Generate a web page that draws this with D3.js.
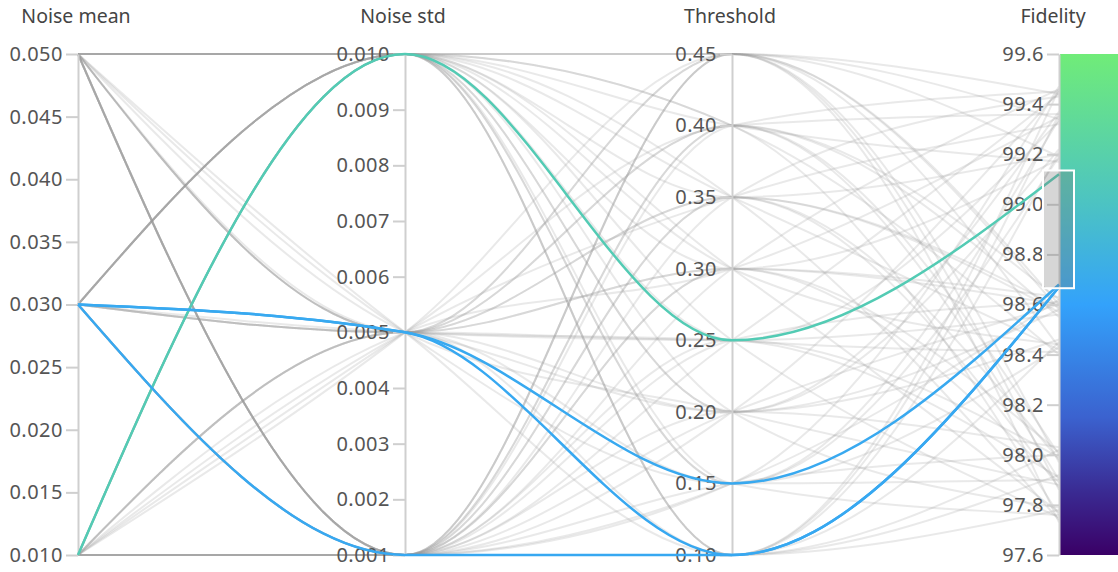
<!DOCTYPE html>
<html>
<head>
<meta charset="utf-8">
<script src="https://cdn.jsdelivr.net/npm/d3@7"></script>
<style>
  body { margin: 0; background: #fff; }
  svg { display: block; font-family: "Noto Sans", sans-serif; }
</style>
</head>
<body>
<svg width="1118" height="572"></svg>
<script>
// axes
const dims = ["Noise mean", "Noise std", "Threshold", "Fidelity"];
const meanValues = [0.010, 0.030, 0.050];
const stdValues = [0.001, 0.005, 0.010];
const thresholds = [0.10, 0.15, 0.20, 0.25, 0.30, 0.35, 0.40, 0.45];

// fidelity per threshold (0.10 ... 0.45), one array per noise mean / std pair
const fidM010S001 = [99.46, 99.47, 99.45, 99.44, 99.46, 99.43, 99.45, 99.44];
const fidM010S005 = [99.36, 99.34, 99.37, 99.33, 99.35, 99.32, 99.36, 99.34];
const fidM010S010 = [99.21, 99.19, 99.22, 99.12, 99.18, 99.2, 99.17, 99.19];
const fidM030S001 = [98.67, 98.62, 98.6, 98.61, 98.63, 98.59, 98.62, 98.6];
const fidM030S005 = [98.67, 98.68, 98.58, 98.56, 98.6, 98.57, 98.55, 98.58];
const fidM030S010 = [98.45, 98.43, 98.46, 98.41, 98.44, 98.42, 98.4, 98.43];
const fidM050S001 = [98.02, 98.0, 98.03, 97.99, 98.01, 97.98, 98.0, 97.97];
const fidM050S005 = [97.92, 97.9, 97.88, 97.91, 97.89, 97.87, 97.9, 97.86];
const fidM050S010 = [97.78, 97.76, 97.79, 97.75, 97.77, 97.74, 97.76, 97.73];

const fidTable = [
  [fidM010S001, fidM010S005, fidM010S010],
  [fidM030S001, fidM030S005, fidM030S010],
  [fidM050S001, fidM050S005, fidM050S010]
];

// brushed range on the Fidelity axis
const brushRange = [98.665, 99.135];

// colour bar stops
const colorStops = [99.6, 99.0, 98.6, 98.15, 97.85, 97.6];
const colorRange = ["#70ec78", "#4cc3c3", "#33a2fb", "#3b62cf", "#3a2a92", "#3a0066"];

// build runs
const runs = [];
meanValues.forEach((m, i) => {
  stdValues.forEach((s, j) => {
    thresholds.forEach((t, k) => {
      runs.push({ "Noise mean": m, "Noise std": s, "Threshold": t, "Fidelity": fidTable[i][j][k] });
    });
  });
});

const svg = d3.select("svg");
const yTop = 54, yBottom = 555;

const x = d3.scalePoint().domain(dims).range([78, 1059]);

const y = {
  "Noise mean": d3.scaleLinear().domain([0.01, 0.05]).range([yBottom, yTop]),
  "Noise std": d3.scaleLinear().domain([0.001, 0.01]).range([yBottom, yTop]),
  "Threshold": d3.scaleLinear().domain([0.1, 0.45]).range([yBottom, yTop]),
  "Fidelity": d3.scaleLinear().domain([97.6, 99.6]).range([yBottom, yTop])
};
const fmt = {
  "Noise mean": d3.format(".3f"),
  "Noise std": d3.format(".3f"),
  "Threshold": d3.format(".2f"),
  "Fidelity": d3.format(".1f")
};
const tickCount = { "Noise mean": 10, "Noise std": 10, "Threshold": 8, "Fidelity": 10 };

const colorScale = d3.scaleLinear().domain(colorStops).range(colorRange);

// colour bar
const defs = svg.append("defs");
const grad = defs.append("linearGradient")
  .attr("id", "fidGrad")
  .attr("x1", 0).attr("y1", 0).attr("x2", 0).attr("y2", 1);
colorStops.forEach((v, i) => {
  grad.append("stop")
    .attr("offset", (y.Fidelity(v) - yTop) / (yBottom - yTop))
    .attr("stop-color", colorRange[i]);
});
svg.append("rect")
  .attr("x", x("Fidelity") + 1)
  .attr("y", yTop)
  .attr("width", 1118 - x("Fidelity"))
  .attr("height", yBottom - yTop)
  .attr("fill", "url(#fidGrad)");

// lines
const lineGen = d3.line().curve(d3.curveMonotoneX);
const path = (d) => lineGen(dims.map((p) => [x(p), y[p](d[p])]));
const inBrush = (d) => d.Fidelity >= brushRange[0] && d.Fidelity <= brushRange[1];

svg.append("g")
  .selectAll("path")
  .data(runs.filter((d) => !inBrush(d)))
  .enter()
  .append("path")
  .attr("d", path)
  .attr("fill", "none")
  .attr("stroke", "#9a9a9a")
  .attr("stroke-opacity", 0.22)
  .attr("stroke-width", 2);

// axes
dims.forEach((p) => {
  const g = svg.append("g")
    .attr("transform", `translate(${x(p)},0)`)
    .call(d3.axisLeft(y[p]).ticks(tickCount[p]).tickFormat(fmt[p]).tickSize(12).tickSizeOuter(0).tickPadding(3));
  g.select(".domain").attr("stroke", "#cfcfcf").attr("stroke-width", 2);
  g.selectAll(".tick line").attr("stroke", "#cfcfcf").attr("stroke-width", 2);
  g.selectAll(".tick text")
    .attr("fill", "#555")
    .style("font-size", "20px")
    .style("letter-spacing", "0.5px")
    .style("font-family", '"Noto Sans", sans-serif');
  svg.append("text")
    .attr("x", p === "Fidelity" ? x(p) - 6 : x(p) - 2)
    .attr("y", 23)
    .attr("text-anchor", "middle")
    .attr("fill", "#444")
    .style("font-size", "19.5px")
    .text(p);
});

// selected lines
svg.append("g")
  .selectAll("path")
  .data(runs.filter(inBrush))
  .enter()
  .append("path")
  .attr("d", path)
  .attr("fill", "none")
  .attr("stroke", (d) => colorScale(d.Fidelity))
  .attr("stroke-width", 2.5);

// brush box
svg.append("rect")
  .attr("x", x("Fidelity") - 16)
  .attr("y", y.Fidelity(brushRange[1]))
  .attr("width", 31)
  .attr("height", y.Fidelity(brushRange[0]) - y.Fidelity(brushRange[1]))
  .attr("fill", "#787878")
  .attr("fill-opacity", 0.3)
  .attr("stroke", "#fff")
  .attr("stroke-width", 2);
</script>
</body>
</html>
